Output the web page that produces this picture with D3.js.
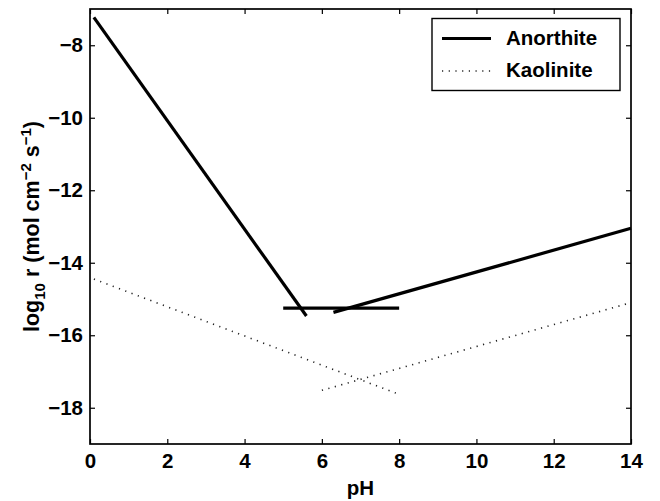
<!DOCTYPE html>
<html>
<head>
<meta charset="utf-8">
<script src="https://cdn.jsdelivr.net/npm/d3@7"></script>
<style>
  body { margin: 0; background: #fff; }
  text { font-family: "Liberation Sans", Arial, sans-serif; font-weight: bold; }
</style>
</head>
<body>
<svg id="chart" width="660" height="501"></svg>
<script>
// series data (pH, log10 r)
var anorthiteAcid = [[0.1, -7.23], [5.6, -15.47]];
var anorthiteNeutral = [[5.0, -15.25], [8.0, -15.25]];
var anorthiteBase = [[6.3, -15.37], [14.0, -13.05]];
var kaoliniteAcid = [[0.1, -14.45], [8.0, -17.63]];
var kaoliniteBase = [[6.0, -17.52], [14.0, -15.1]];
var xTicks = [0, 2, 4, 6, 8, 10, 12, 14];
var yTicks = [-8, -10, -12, -14, -16, -18];
var legendNames = ["Anorthite", "Kaolinite"];

var svg = d3.select("#chart"),
    pLeft = 90, pRight = 631, pTop = 9, pBottom = 444,
    tickLen = 5;

var x = d3.scaleLinear().domain([0, 14]).range([pLeft, pRight]);
var y = d3.scaleLinear().domain([-19, -7]).range([pBottom, pTop]);

var line = d3.line().x(function(d){ return x(d[0]); }).y(function(d){ return y(d[1]); });

// axes - ticks inward on all four sides
var g = svg.append("g");
g.append("g").attr("transform", "translate(0," + pBottom + ")")
  .call(d3.axisBottom(x).tickValues(xTicks).tickSizeInner(-tickLen).tickSizeOuter(0).tickPadding(9));
g.append("g").attr("transform", "translate(0," + pTop + ")")
  .call(d3.axisTop(x).tickValues(xTicks).tickSizeInner(-tickLen).tickSizeOuter(0).tickFormat(""));
g.append("g").attr("transform", "translate(" + pLeft + ",0)")
  .call(d3.axisLeft(y).tickValues(yTicks).tickSizeInner(-tickLen).tickSizeOuter(0).tickPadding(7)
    .tickFormat(function(d){ return String(d).replace("-", "\u2212"); }));
g.append("g").attr("transform", "translate(" + pRight + ",0)")
  .call(d3.axisRight(y).tickValues(yTicks).tickSizeInner(-tickLen).tickSizeOuter(0).tickFormat(""));
g.selectAll(".domain").remove();
g.selectAll(".tick line").attr("stroke", "#000").attr("stroke-width", 1.2);
g.selectAll(".tick text").attr("font-size", 20.5).attr("fill", "#000")
  .style("font-family", "'Liberation Sans', Arial, sans-serif").style("font-weight", "bold");

svg.append("rect")
  .attr("x", pLeft).attr("y", pTop)
  .attr("width", pRight - pLeft).attr("height", pBottom - pTop)
  .attr("fill", "none").attr("stroke", "#000").attr("stroke-width", 1.7);

// anorthite
[anorthiteAcid, anorthiteNeutral, anorthiteBase].forEach(function(s){
  svg.append("path").attr("d", line(s))
    .attr("fill", "none").attr("stroke", "#000").attr("stroke-width", 3.2);
});
// kaolinite
[kaoliniteAcid, kaoliniteBase].forEach(function(s){
  svg.append("path").attr("d", line(s))
    .attr("fill", "none").attr("stroke", "#222").attr("stroke-width", 1.6)
    .attr("stroke-dasharray", "1.2,5.5");
});

// legend
var lg = svg.append("g");
lg.append("rect").attr("x", 432).attr("y", 18.5).attr("width", 188).attr("height", 72)
  .attr("fill", "#fff").attr("stroke", "#000").attr("stroke-width", 1.4);
lg.append("line").attr("x1", 442).attr("x2", 491).attr("y1", 38.5).attr("y2", 38.5)
  .attr("stroke", "#000").attr("stroke-width", 3.2);
lg.append("line").attr("x1", 442).attr("x2", 491).attr("y1", 71).attr("y2", 71)
  .attr("stroke", "#222").attr("stroke-width", 1.6).attr("stroke-dasharray", "1.2,5.5");
lg.selectAll("text.lab").data(legendNames).enter().append("text")
  .attr("x", 506).attr("y", function(d, i){ return 44.5 + i * 32.5; })
  .attr("font-size", 20.5).text(function(d){ return d; });

// axis labels
svg.append("text").attr("x", (pLeft + pRight) / 2).attr("y", 495)
  .attr("text-anchor", "middle").attr("font-size", 20.5).text("pH");

var yl = svg.append("text")
  .attr("transform", "translate(39," + ((pTop + pBottom) / 2) + ") rotate(-90)")
  .attr("text-anchor", "middle").attr("font-size", 21.5);
yl.append("tspan").text("log");
yl.append("tspan").attr("font-size", 15).attr("dy", 6).text("10");
yl.append("tspan").attr("dy", -6).text(" r (mol cm");
yl.append("tspan").attr("font-size", 15).attr("dy", -8).text("\u22122");
yl.append("tspan").attr("dy", 8).text(" s");
yl.append("tspan").attr("font-size", 15).attr("dy", -8).text("\u22121");
yl.append("tspan").attr("dy", 8).text(")");
</script>
</body>
</html>
